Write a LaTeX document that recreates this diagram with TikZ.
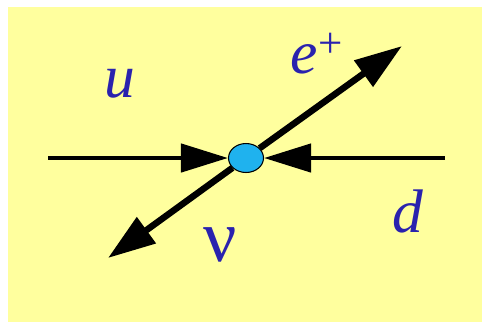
\documentclass[tikz,border=0pt]{standalone}
\usepackage{fontspec}
\setmainfont{Liberation Serif}
\usetikzlibrary{shapes.geometric, arrows.meta, positioning}
\definecolor{fdYellow}{HTML}{FFFF9E}
\definecolor{fdBlue}{HTML}{2A22AE}
\definecolor{fdVertex}{HTML}{1FB2EE}
\tikzset{
  quark/.style={line width=0.09cm, -{Triangle[length=0.94cm, width=0.56cm]}},
  lepton/.style={line width=0.13cm, -{Triangle[length=0.95cm, width=0.62cm]}},
  vertex/.style={ellipse, draw=black, semithick, fill=fdVertex,
    minimum width=0.7cm, minimum height=0.58cm, inner sep=0pt},
  particle/.style={inner sep=0pt, text=fdBlue, font=\fontsize{35}{35}\selectfont\itshape}
}
\begin{document}
\begin{tikzpicture}[x=0.02cm, y=-0.02cm]
  \useasboundingbox (0,0) rectangle (486,326);
  \fill[fdYellow] (8,7) rectangle (482,322);
  % vertex and external legs
  \node[vertex] (vtx) at (246,158) {};
  \coordinate (uin) at (48,158);
  \coordinate (din) at (445,158);
  \coordinate (eout) at (402,46);
  \coordinate (nuout) at (108,258);
  \draw[quark] (uin) -- (vtx);
  \draw[quark] (din) -- (vtx);
  \draw[lepton] (vtx) -- (eout);
  \draw[lepton] (vtx) -- (nuout);
  % labels
  \node[particle] (ulab) at (120,84) {u};
  \node[particle] (dlab) at (408,211) {d};
  \node[particle] (elab) at (317,54) {e\textsuperscript{\upshape +}};
  \node[particle, font=\fontsize{42}{42}\selectfont] (nulab) at (220,245) {ν};
\end{tikzpicture}
\end{document}
